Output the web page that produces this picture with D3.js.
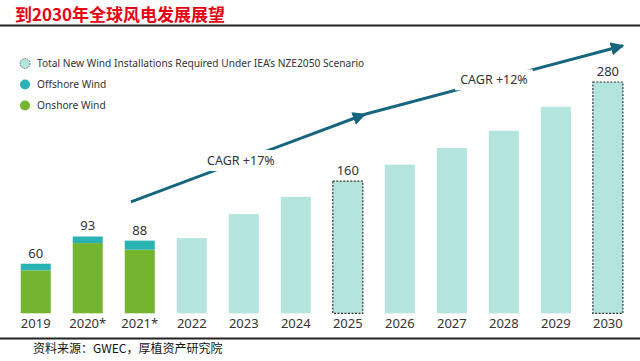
<!DOCTYPE html>
<html>
<head>
<meta charset="utf-8">
<script src="https://cdn.jsdelivr.net/npm/d3@7"></script>
<style>
  body { margin: 0; background: #fff; }
  svg { display: block; }
</style>
</head>
<body>
<script>
// data
var years = ['2019', '2020*', '2021*', '2022', '2023', '2024', '2025', '2026', '2027', '2028', '2029', '2030'];
var onshore = [52, 85, 77];
var offshore = [8, 8, 11];
var required = [null, null, null, 91, 120, 141, 160, 180, 200, 221, 250, 280];
var valueLabels = ['60', '93', '88', null, null, null, '160', null, null, null, null, '280'];
var dashedYears = ['2025', '2030'];
var legendLabels = ['Total New Wind Installations Required Under IEA\u2019s NZE2050 Scenario', 'Offshore Wind', 'Onshore Wind'];
var cagrLabels = ['CAGR +17%', 'CAGR +12%'];

var w = 640;
var h = 361;
var colOn = '#74b42e';
var colOff = '#2bb3b4';
var colReq = '#b3e4de';
var colArrow = '#17667f';
var font = '"Noto Sans", "Open Sans", sans-serif';

var svg = d3.select('body').append('svg')
  .attr('width', w)
  .attr('height', h);

// title and rules
svg.append('text')
  .attr('x', 15).attr('y', 21)
  .attr('font-family', '"Noto Sans CJK SC", sans-serif')
  .attr('font-weight', 'bold')
  .attr('font-size', 17)
  .attr('fill', '#e60012')
  .text('到2030年全球风电发展展望');

svg.append('line')
  .attr('x1', 0).attr('x2', w).attr('y1', 25.5).attr('y2', 25.5)
  .attr('stroke', '#222').attr('stroke-width', 2);

svg.append('line')
  .attr('x1', 0).attr('x2', w).attr('y1', 338.5).attr('y2', 338.5)
  .attr('stroke', '#222').attr('stroke-width', 2);

svg.append('text')
  .attr('x', 33).attr('y', 353)
  .attr('font-family', '"Noto Sans CJK SC", serif')
  .attr('font-size', 12)
  .attr('fill', '#111')
  .text('资料来源：GWEC，厚植资产研究院');

// scales
var x = d3.scaleBand()
  .domain(years)
  .range([9.8, 633.8])
  .paddingInner(0.423)
  .paddingOuter(0.21);

var y = d3.scaleLinear()
  .domain([0, 300])
  .range([313.3, 65.5]);

var bw = x.bandwidth();

// historic stacked bars
var hist = years.slice(0, 3).map(function (yr, i) {
  return { year: yr, on: onshore[i], off: offshore[i] };
});

svg.selectAll('rect.on')
  .data(hist)
  .enter()
  .append('rect')
    .attr('class', 'on')
    .attr('x', function (d) { return x(d.year); })
    .attr('y', function (d) { return y(d.on); })
    .attr('width', bw)
    .attr('height', function (d) { return y(0) - y(d.on); })
    .attr('fill', colOn);

svg.selectAll('rect.off')
  .data(hist)
  .enter()
  .append('rect')
    .attr('class', 'off')
    .attr('x', function (d) { return x(d.year); })
    .attr('y', function (d) { return y(d.on + d.off); })
    .attr('width', bw)
    .attr('height', function (d) { return y(d.on) - y(d.on + d.off); })
    .attr('fill', colOff);

// required bars
var req = years.map(function (yr, i) {
  return { year: yr, val: required[i] };
}).filter(function (d) { return d.val !== null; });

svg.selectAll('rect.req')
  .data(req)
  .enter()
  .append('rect')
    .attr('class', 'req')
    .attr('x', function (d) { return x(d.year); })
    .attr('y', function (d) { return y(d.val); })
    .attr('width', bw)
    .attr('height', function (d) { return y(0) - y(d.val); })
    .attr('fill', colReq)
    .attr('stroke', function (d) { return dashedYears.indexOf(d.year) >= 0 ? '#333' : 'none'; })
    .attr('stroke-width', 1.2)
    .attr('stroke-dasharray', '2,1.5');

// value labels
var labelData = years.map(function (yr, i) {
  var v = i < 3 ? onshore[i] + offshore[i] : required[i];
  return { year: yr, val: v, text: valueLabels[i] };
}).filter(function (d) { return d.text !== null; });

svg.selectAll('text.val')
  .data(labelData)
  .enter()
  .append('text')
    .attr('class', 'val')
    .attr('x', function (d) { return x(d.year) + bw / 2; })
    .attr('y', function (d) { return y(d.val) - 6; })
    .attr('text-anchor', 'middle')
    .attr('font-family', font)
    .attr('font-size', 13)
    .attr('fill', '#333')
    .text(function (d) { return d.text; });

// x axis labels
var xAxis = d3.axisBottom(x).tickSize(0).tickPadding(5);
var ax = svg.append('g')
  .attr('transform', 'translate(0,' + y(0) + ')')
  .call(xAxis);
ax.select('.domain').remove();
ax.selectAll('text')
  .attr('font-family', font)
  .attr('font-size', 13)
  .attr('fill', '#333');

// CAGR arrows, points given in band/value space
var arrows = [
  { from: ['2021*', -0.17, 135], to: ['2025', 0.33, 241], label: cagrLabels[0], at: 0.47 },
  { from: ['2025', 0.33, 241], to: ['2030', 0.29, 324], label: cagrLabels[1], at: 0.5 }
];

function px(p) { return x(p[0]) + bw / 2 + p[1] * x.step(); }
function py(p) { return y(p[2]); }

var defs = svg.append('defs');
defs.append('marker')
  .attr('id', 'head')
  .attr('viewBox', '0 0 10 10')
  .attr('refX', 9).attr('refY', 5)
  .attr('markerWidth', 4.5).attr('markerHeight', 4.5)
  .attr('orient', 'auto')
  .append('path')
    .attr('d', 'M0,0 L10,5 L0,10 z')
    .attr('fill', colArrow);

arrows.forEach(function (a) {
  var x1 = px(a.from), y1 = py(a.from), x2 = px(a.to), y2 = py(a.to);
  svg.append('line')
    .attr('x1', x1).attr('y1', y1).attr('x2', x2).attr('y2', y2)
    .attr('stroke', colArrow)
    .attr('stroke-width', 3)
    .attr('marker-end', 'url(#head)');

  var lx = x1 + (x2 - x1) * a.at;
  var ly = y1 + (y2 - y1) * a.at;
  var t = svg.append('text')
    .attr('x', lx).attr('y', ly)
    .attr('dy', '0.35em')
    .attr('text-anchor', 'middle')
    .attr('font-family', font)
    .attr('font-size', 12.5)
    .attr('fill', '#333')
    .text(a.label);
  var bb = t.node().getBBox();
  svg.insert('rect', function () { return t.node(); })
    .attr('x', bb.x - 5).attr('y', bb.y - 2)
    .attr('width', bb.width + 10).attr('height', bb.height + 4)
    .attr('fill', '#fff');
});

// legend
var legendColors = [colReq, colOff, colOn];
var lg = svg.selectAll('g.legend')
  .data(legendLabels)
  .enter()
  .append('g')
    .attr('class', 'legend')
    .attr('transform', function (d, i) { return 'translate(25,' + (63.5 + i * 21) + ')'; });

lg.append('circle')
  .attr('r', 5)
  .attr('fill', function (d, i) { return legendColors[i]; })
  .attr('stroke', function (d, i) { return i === 0 ? '#555' : 'none'; })
  .attr('stroke-width', 0.8)
  .attr('stroke-dasharray', '1.5,1');

lg.append('text')
  .attr('x', 12)
  .attr('dy', '0.35em')
  .attr('font-family', font)
  .attr('font-size', 10.2)
  .attr('fill', '#333')
  .text(function (d) { return d; });
</script>
</body>
</html>
